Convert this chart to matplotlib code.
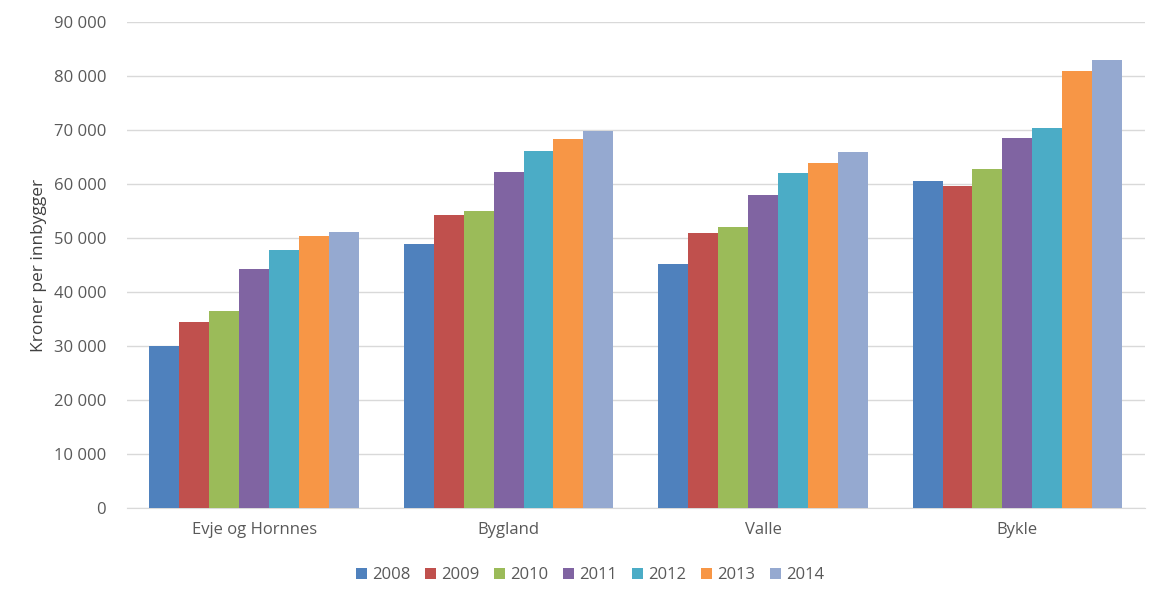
import matplotlib
matplotlib.use("Agg")
import matplotlib.pyplot as plt
from matplotlib.ticker import FuncFormatter, MultipleLocator
import numpy as np

categories = ["Evje og Hornnes", "Bygland", "Valle", "Bykle"]
years = ["2008", "2009", "2010", "2011", "2012", "2013", "2014"]
colors = ["#4f81bd", "#c0504d", "#9bbb59", "#8064a2", "#4bacc6", "#f79646", "#95a9d0"]

# values per year, one entry per category
v2008 = [30000, 48900, 45200, 60600]
v2009 = [34400, 54200, 50900, 59700]
v2010 = [36500, 55000, 52000, 62800]
v2011 = [44300, 62200, 58000, 68600]
v2012 = [47800, 66100, 62000, 70400]
v2013 = [50400, 68300, 63900, 81000]
v2014 = [51100, 69800, 65900, 82900]
series = [v2008, v2009, v2010, v2011, v2012, v2013, v2014]

plt.rcParams['font.family'] = ['Open Sans', 'DejaVu Sans']

fig = plt.figure(figsize=(11.67, 6.04), dpi=100)
ax = fig.add_axes([0.1088, 0.159, 0.872, 0.8046])

n = len(series)
bar_w = 1.0 / 8.5
x = np.arange(len(categories))
for i, (vals, c, yr) in enumerate(zip(series, colors, years)):
    offs = (i - (n - 1) / 2) * bar_w
    ax.bar(x + offs, vals, width=bar_w, color=c, label=yr, zorder=3)

ax.set_xlim(-0.5, len(categories) - 0.5)
ax.set_ylim(0, 90000)
ax.yaxis.set_major_locator(MultipleLocator(10000))
ax.yaxis.set_major_formatter(FuncFormatter(lambda v, p: f"{int(v):,}".replace(",", " ")))
ax.grid(axis="y", color="#d9d9d9", linewidth=1, zorder=0)
ax.set_xticks(x)
ax.set_xticklabels(categories)
for s in ["top", "right", "left"]:
    ax.spines[s].set_visible(False)
ax.spines["bottom"].set_color("#d9d9d9")
ax.tick_params(axis="both", length=0, colors="#595959", labelsize=12)
ax.tick_params(axis="x", pad=10)
ax.tick_params(axis="y", pad=15)
ax.set_ylabel("Kroner per innbygger", fontsize=12.5, color="#404040", labelpad=5)

leg = ax.legend(loc="center", bbox_to_anchor=(0.455, -0.138), ncol=7, frameon=False,
                fontsize=12, handlelength=0.65, handleheight=0.65, handletextpad=0.3,
                columnspacing=0.9)
for t in leg.get_texts():
    t.set_color("#595959")

fig.savefig("out.png", dpi=100)
